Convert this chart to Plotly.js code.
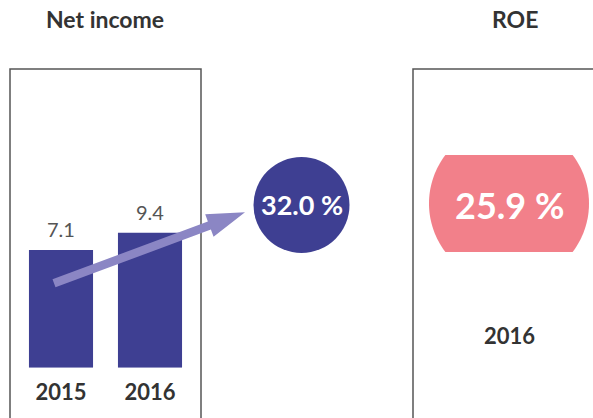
<!DOCTYPE html>
<html>
<head>
<meta charset="utf-8">
<script src="https://cdn.plot.ly/plotly-3.0.1.min.js"></script>
<style>html,body{margin:0;padding:0;background:#fff;}#chart{width:593px;height:418px;}</style>
</head>
<body>
<div id="chart"></div>
<script>
// ---- data ----
const years = ['2015', '2016'];
const netIncome = [7.1, 9.4];
const growthPct = 32.0;
const roeYears = ['2016'];
const roeValues = [25.9];
const titles = ['Net income', 'ROE'];

// ---- layout helpers (pixel -> paper) ----
const W = 593, H = 418;
const px = x => x / W;
const py = y => 1 - y / H;

const BASE = -8.55;          // visual baseline of the bar scale
const PX_PER_UNIT = 7.52;
const yBottomPx = 367.7, yTopPx = 69;
const yRange = [BASE, BASE + (yBottomPx - yTopPx) / PX_PER_UNIT];

const FONT = 'Lato, "Open Sans", sans-serif';
const DARK = '#333333';
const BAR = '#3e3f92';
const ARROW = '#8b86c4';
const PINK = '#f2808a';

const bars = {
  type: 'bar',
  x: years,
  y: netIncome.map(v => v - BASE),
  base: BASE,
  width: 0.72,
  marker: {color: BAR},
  hoverinfo: 'skip',
  showlegend: false
};

// arrow polygon (decorative)
function arrowPath(x0, y0, x1, y1, hw, headLen, headHw) {
  const dx = x1 - x0, dy = y1 - y0, L = Math.hypot(dx, dy);
  const ux = dx / L, uy = dy / L, nx = -uy, ny = ux;
  const bx = x1 - ux * headLen, by = y1 - uy * headLen;
  const pts = [
    [x0 + nx * hw, y0 + ny * hw],
    [bx + nx * hw, by + ny * hw],
    [bx + nx * headHw, by + ny * headHw],
    [x1, y1],
    [bx - nx * headHw, by - ny * headHw],
    [bx - nx * hw, by - ny * hw],
    [x0 - nx * hw, y0 - ny * hw]
  ];
  return 'M' + pts.map(p => px(p[0]).toFixed(5) + ',' + py(p[1]).toFixed(5)).join(' L') + ' Z';
}

// truncated circle (ROE badge)
function badgePath(cx, cy, R, hh) {
  const a = Math.asin(hh / R);
  const pts = [];
  const n = 40;
  for (let i = 0; i <= n; i++) {           // right arc: top-right -> bottom-right
    const t = -a + (2 * a) * i / n;
    pts.push([cx + R * Math.cos(t), cy + R * Math.sin(t)]);
  }
  for (let i = 0; i <= n; i++) {           // left arc: bottom-left -> top-left
    const t = Math.PI - a + (2 * a) * i / n;
    pts.push([cx + R * Math.cos(t), cy + R * Math.sin(t)]);
  }
  return 'M' + pts.map(p => px(p[0]).toFixed(5) + ',' + py(p[1]).toFixed(5)).join(' L') + ' Z';
}

const shapes = [
  {type: 'rect', xref: 'paper', yref: 'paper', x0: px(10), x1: px(201), y0: py(69), y1: py(430),
   line: {color: '#555555', width: 1.5}, fillcolor: 'rgba(0,0,0,0)', layer: 'below'},
  {type: 'rect', xref: 'paper', yref: 'paper', x0: px(413), x1: px(610), y0: py(69), y1: py(430),
   line: {color: '#555555', width: 1.5}, fillcolor: 'rgba(0,0,0,0)', layer: 'below'},
  {type: 'path', xref: 'paper', yref: 'paper', path: arrowPath(54, 283.3, 245, 212.3, 4.3, 38, 12),
   fillcolor: ARROW, line: {width: 0}, layer: 'above'},
  {type: 'circle', xref: 'paper', yref: 'paper', x0: px(253.5), x1: px(349.5), y0: py(157), y1: py(253),
   fillcolor: BAR, line: {width: 0}},
  {type: 'path', xref: 'paper', yref: 'paper', path: badgePath(509, 203.5, 80, 48.5),
   fillcolor: PINK, line: {width: 0}}
];

const annotations = [];
annotations.push({xref: 'paper', yref: 'paper', x: px(105), y: py(19), text: titles[0], showarrow: false,
  xanchor: 'center', yanchor: 'middle', font: {family: FONT, size: 23, color: DARK, weight: 'bold'}});
annotations.push({xref: 'paper', yref: 'paper', x: px(515), y: py(19), text: titles[1], showarrow: false,
  xanchor: 'center', yanchor: 'middle', font: {family: FONT, size: 23, color: DARK, weight: 'bold'}});
// value labels (category index on x)
years.forEach((yr, i) => {
  annotations.push({xref: 'x', yref: 'y', x: i, y: netIncome[i], text: netIncome[i].toFixed(1),
    showarrow: false, xanchor: 'center', yanchor: 'bottom', yshift: 7,
    font: {family: FONT, size: 20, color: '#555555'}});
});
annotations.push({xref: 'paper', yref: 'paper', x: px(301.5), y: py(205), text: growthPct.toFixed(1) + ' %',
  showarrow: false, xanchor: 'center', yanchor: 'middle',
  font: {family: FONT, size: 27, color: '#ffffff', weight: 'bold'}});
annotations.push({xref: 'paper', yref: 'paper', x: px(509), y: py(205), text: roeValues[0].toFixed(1) + ' %',
  showarrow: false, xanchor: 'center', yanchor: 'middle',
  font: {family: FONT, size: 36, color: '#ffffff', weight: 'bold'}});
annotations.push({xref: 'paper', yref: 'paper', x: px(509), y: py(335), text: roeYears[0],
  showarrow: false, xanchor: 'center', yanchor: 'middle',
  font: {family: FONT, size: 22, color: DARK, weight: 'bold'}});

const xPad = 51 / 89;
const layout = {
  width: W, height: H,
  margin: {l: 0, r: 0, t: 0, b: 0},
  paper_bgcolor: '#ffffff', plot_bgcolor: 'rgba(0,0,0,0)',
  xaxis: {domain: [px(10), px(201)], range: [-xPad, 1 + xPad], type: 'category',
    showgrid: false, zeroline: false, showline: false, ticks: '', ticklabelstandoff: 9,
    tickfont: {family: FONT, size: 22, color: DARK, weight: 'bold'}, fixedrange: true},
  yaxis: {domain: [py(yBottomPx), py(yTopPx)], range: yRange, showgrid: false, zeroline: false,
    showline: false, showticklabels: false, ticks: '', fixedrange: true},
  shapes: shapes,
  annotations: annotations,
  showlegend: false
};

Plotly.newPlot('chart', [bars], layout, {displayModeBar: false, staticPlot: true});
</script>
</body>
</html>
